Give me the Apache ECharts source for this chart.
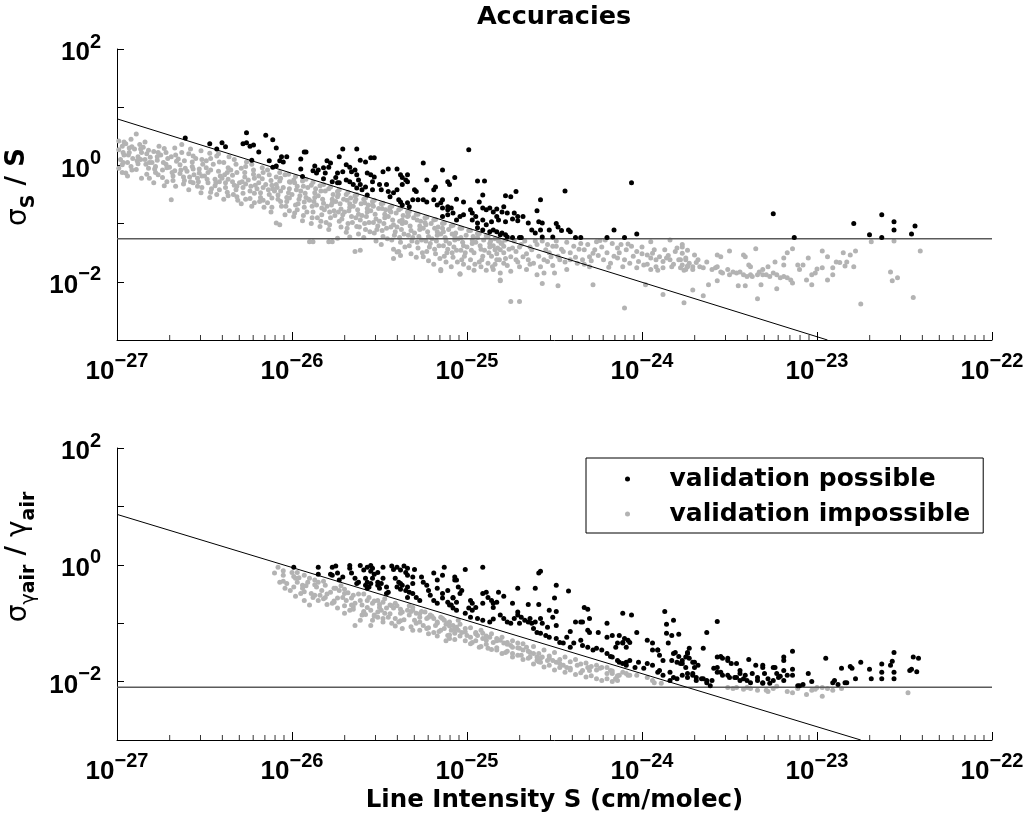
<!DOCTYPE html>
<html><head><meta charset="utf-8">
<script src="https://cdn.jsdelivr.net/npm/echarts@6.0.0/dist/echarts.min.js"></script>
<style>html,body{margin:0;padding:0;background:#fff}#c{width:1030px;height:822px}</style>
</head><body><div id="c"></div>
<script>
// Values stored as [log10(S in cm/molec), log10(accuracy)].
const xDecades = [-27, -22];          // S axis range, 10^-27 .. 10^-22
const yDecades = [-3, 2];             // accuracy axis range, 10^-3 .. 10^2
const topLimit = 0.055;               // sigma_S/S horizontal limit
const bottomLimit = 0.008;            // sigma_gamma/gamma horizontal limit
const topDiagonal = [[-27, 0.80], [-22.94, -3]];
const bottomDiagonal = [[-27, 0.863], [-22.75, -3]];

const topPossible = [[-26.61,0.47],[-26.47,0.37],[-26.43,0.28],[-26.40,0.39],[-26.38,0.32],[-26.28,0.37],[-26.26,0.56],[-26.26,0.39],[-26.24,0.33],[-26.22,0.35],[-26.23,0.09],[-26.19,0.23],[-26.15,0.52],[-26.11,0.44],[-26.13,0.08],[-26.11,-0.03],[-26.09,-0.01],[-26.09,0.30],[-26.07,0.08],[-26.06,0.15],[-26.05,0.06],[-26.03,0.15],[-25.95,0.11],[-25.95,-0.06],[-25.93,0.23],[-25.92,0.23],[-25.94,-0.19],[-25.88,-0.09],[-25.87,-0.01],[-25.86,-0.13],[-25.85,-0.08],[-25.82,-0.04],[-25.81,-0.13],[-25.82,-0.23],[-25.80,0.08],[-25.79,-0.03],[-25.78,0.04],[-25.77,-0.28],[-25.75,-0.21],[-25.74,-0.13],[-25.74,-0.30],[-25.73,0.15],[-25.73,-0.30],[-25.71,0.28],[-25.71,-0.11],[-25.69,0.01],[-25.69,-0.25],[-25.67,-0.03],[-25.67,-0.28],[-25.66,-0.11],[-25.65,-0.33],[-25.64,-0.08],[-25.63,0.28],[-25.63,-0.16],[-25.63,-0.39],[-25.62,-0.25],[-25.61,-0.33],[-25.61,0.09],[-25.60,-0.42],[-25.58,-0.37],[-25.58,0.06],[-25.57,-0.13],[-25.57,-0.51],[-25.55,0.13],[-25.55,-0.16],[-25.54,-0.42],[-25.54,-0.28],[-25.53,0.13],[-25.53,-0.20],[-25.50,-0.33],[-25.49,-0.42],[-25.48,-0.11],[-25.46,-0.33],[-25.45,-0.45],[-25.45,-0.06],[-25.44,-0.54],[-25.42,-0.47],[-25.40,-0.06],[-25.40,-0.42],[-25.39,-0.59],[-25.38,-0.16],[-25.38,-0.63],[-25.37,-0.21],[-25.37,-0.33],[-25.37,-0.68],[-25.35,-0.25],[-25.34,-0.16],[-25.34,-0.28],[-25.34,-0.64],[-25.33,-0.71],[-25.31,-0.59],[-25.30,-0.42],[-25.29,-0.45],[-25.28,-0.59],[-25.25,0.04],[-25.25,-0.59],[-25.23,-0.25],[-25.23,-0.63],[-25.19,-0.42],[-25.19,-0.59],[-25.18,-0.37],[-25.17,-0.68],[-25.15,-0.64],[-25.14,-0.08],[-25.14,-0.59],[-25.14,-0.73],[-25.14,-0.88],[-25.11,-0.71],[-25.11,-0.28],[-25.11,-0.76],[-25.11,-0.85],[-25.10,-0.33],[-25.09,-0.73],[-25.08,-0.82],[-25.07,-0.21],[-25.06,-0.58],[-25.06,-0.94],[-25.04,-0.88],[-25.02,-0.85],[-25.02,-0.63],[-24.99,0.27],[-24.98,-0.76],[-24.97,-0.94],[-24.97,-0.82],[-24.95,-0.88],[-24.94,-0.27],[-24.94,-0.99],[-24.94,-1.07],[-24.93,-0.63],[-24.91,-0.73],[-24.91,-0.94],[-24.91,-0.51],[-24.91,-1.11],[-24.90,-0.27],[-24.89,-0.76],[-24.89,-1.02],[-24.87,-0.73],[-24.87,-1.14],[-24.86,-0.97],[-24.85,-0.80],[-24.85,-1.11],[-24.83,-0.88],[-24.83,-0.75],[-24.83,-1.14],[-24.82,-0.94],[-24.81,-1.19],[-24.80,-0.80],[-24.80,-1.16],[-24.79,-0.71],[-24.78,-0.52],[-24.78,-0.97],[-24.78,-1.19],[-24.77,-0.82],[-24.77,-1.23],[-24.75,-0.54],[-24.74,-0.92],[-24.74,-1.24],[-24.73,-0.82],[-24.72,-0.45],[-24.71,-0.88],[-24.71,-0.95],[-24.70,-1.24],[-24.69,-1.24],[-24.68,-0.88],[-24.65,-0.99],[-24.63,-1.11],[-24.61,-1.16],[-24.60,-0.78],[-24.59,-0.97],[-24.58,-1.11],[-24.58,-0.59],[-24.57,-0.99],[-24.57,-1.23],[-24.53,-1.11],[-24.51,-1.23],[-24.49,-1.00],[-24.48,-1.06],[-24.46,-1.12],[-24.44,-0.44],[-24.42,-1.11],[-24.41,-1.14],[-24.38,-1.24],[-24.35,-1.24],[-24.20,-1.24],[-24.16,-1.11],[-24.10,-1.24],[-24.06,-0.30],[-24.03,-1.18],[-23.25,-0.83],[-23.13,-1.24],[-22.79,-1.00],[-22.70,-1.19],[-22.63,-1.24],[-22.63,-0.85],[-22.56,-0.97],[-22.56,-1.11],[-22.46,-1.18],[-22.44,-1.04]];

const topImpossible = [[-26.99,0.42],[-26.99,0.27],[-26.98,0.10],[-26.97,0.33],[-26.97,-0.12],[-26.96,0.18],[-26.99,-0.05],[-26.96,0.40],[-26.97,0.01],[-26.95,-0.13],
[-26.95,0.37],[-26.94,0.05],[-26.93,0.22],[-26.92,0.45],[-26.94,-0.18],[-26.91,0.12],[-26.93,0.30],[-26.92,-0.02],
[-26.89,0.54],[-26.90,0.28],[-26.88,0.15],[-26.87,0.36],[-26.89,-0.07],[-26.86,0.22],[-26.88,0.03],[-26.86,-0.22],
[-26.85,0.31],[-26.84,0.10],[-26.83,0.20],[-26.82,-0.05],[-26.84,0.40],[-26.81,0.14],[-26.83,-0.15],[-26.82,0.26],
[-26.80,0.05],[-26.79,0.24],[-26.78,-0.12],[-26.77,0.15],[-26.79,-0.30],[-26.76,0.33],[-26.78,-0.02],[-26.77,0.09],
[-26.75,0.18],[-26.74,-0.08],[-26.73,0.29],[-26.72,0.02],[-26.74,-0.21],[-26.71,0.12],[-26.73,-0.35],[-26.72,0.22],
[-26.70,-0.03],[-26.69,0.15],[-26.68,-0.18],[-26.67,0.30],[-26.69,-0.59],[-26.66,0.07],[-26.68,-0.26],[-26.67,-0.09],
[-26.65,0.11],[-26.64,-0.14],[-26.63,0.22],[-26.62,-0.32],[-26.64,0.01],[-26.61,-0.05],[-26.63,0.36],[-26.62,-0.20],
[-26.60,-0.10],[-26.59,0.20],[-26.58,-0.28],[-26.57,0.06],[-26.59,-0.42],[-26.56,-0.16],[-26.58,0.28],[-26.57,-0.02],
[-26.55,0.12],[-26.54,-0.22],[-26.53,-0.06],[-26.52,0.25],[-26.54,-0.36],[-26.51,0.02],[-26.53,-0.13],[-26.52,-0.47],
[-26.50,-0.18],[-26.49,0.08],[-26.48,-0.30],[-26.47,0.21],[-26.49,-0.04],[-26.46,-0.40],[-26.48,-0.12],[-26.47,-0.55],
[-26.45,0.02],[-26.44,-0.24],[-26.43,0.16],[-26.42,-0.10],[-26.44,-0.35],[-26.41,-0.18],[-26.43,-0.50],[-26.42,0.20],
[-26.40,-0.22],[-26.39,0.05],[-26.38,-0.38],[-26.37,-0.12],[-26.39,-0.58],[-26.36,0.15],[-26.38,-0.30],[-26.37,-0.46],
[-26.35,-0.08],[-26.34,-0.28],[-26.33,0.10],[-26.32,-0.42],[-26.34,-0.17],[-26.31,-0.60],[-26.33,-0.34],[-26.32,0.02],
[-26.30,-0.30],[-26.29,-0.05],[-26.28,-0.48],[-26.27,-0.20],[-26.29,-0.66],[-26.26,0.06],[-26.28,-0.38],[-26.27,-0.12],
[-26.25,-0.25],[-26.24,-0.44],[-26.23,0.02],[-26.22,-0.15],[-26.24,-0.57],[-26.21,-0.34],[-26.23,-0.70],[-26.22,-0.08],
[-26.20,-0.40],[-26.19,-0.18],[-26.18,-0.55],[-26.17,-0.04],[-26.19,-0.30],[-26.16,-0.72],[-26.18,-0.47],[-26.17,-0.23],
[-26.15,-0.33],[-26.14,-0.08],[-26.13,-0.50],[-26.12,-0.26],[-26.14,-0.64],[-26.11,-0.40],[-26.13,-0.16],[-26.12,-0.80],
[-26.10,-0.44],[-26.09,-0.20],[-26.08,-0.58],[-26.07,-0.12],[-26.09,-0.33],[-26.06,-0.70],[-26.08,-0.51],[-26.07,-0.27],
[-26.05,-0.38],[-26.04,-0.16],[-26.03,-0.62],[-26.02,-0.47],[-26.04,-0.85],[-26.01,-0.29],[-26.03,-0.55],[-26.02,-0.15],
[-26.00,-0.50],[-25.99,-0.25],[-25.98,-0.68],[-25.97,-0.36],[-25.99,-0.88],[-25.96,-0.58],[-25.98,-0.19],[-25.97,-0.76],
[-26.09,-0.99],[-26.07,-1.02],
[-25.95,-0.44],[-25.94,-0.27],[-25.93,-0.72],[-25.92,-0.55],[-25.94,-0.95],[-25.91,-0.38],[-25.93,-0.63],[-25.92,-0.24],
[-25.90,-0.60],[-25.89,-0.34],[-25.88,-0.80],[-25.87,-0.47],[-25.89,-1.00],[-25.86,-0.68],[-25.88,-0.29],[-25.87,-0.55],
[-25.88,-1.31],
[-25.85,-0.52],[-25.84,-0.35],[-25.83,-0.85],[-25.82,-0.65],[-25.84,-1.05],[-25.81,-0.44],[-25.83,-0.73],[-25.82,-0.33],
[-25.80,-0.70],[-25.79,-0.40],[-25.78,-0.90],[-25.77,-0.58],[-25.79,-1.10],[-25.76,-0.78],[-25.78,-0.37],[-25.77,-0.64],
[-25.77,-1.31],
[-25.75,-0.62],[-25.74,-0.45],[-25.73,-0.96],[-25.72,-0.75],[-25.74,-0.54],[-25.71,-0.85],[-25.73,-0.42],[-25.72,-1.06],
[-25.70,-0.80],[-25.69,-0.50],[-25.68,-1.00],[-25.67,-0.66],[-25.69,-1.15],[-25.66,-0.88],[-25.68,-0.46],[-25.67,-0.72],
[-25.65,-0.70],[-25.64,-0.52],[-25.63,-1.05],[-25.62,-0.84],[-25.64,-0.62],[-25.61,-0.94],[-25.63,-0.50],[-25.62,-1.18],
[-25.64,-1.48],[-25.61,-1.46],
[-25.60,-0.86],[-25.59,-0.58],[-25.58,-1.10],[-25.57,-0.74],[-25.59,-1.24],[-25.56,-0.98],[-25.58,-0.56],[-25.57,-0.80],
[-25.55,-0.78],[-25.54,-0.62],[-25.53,-1.16],[-25.52,-0.92],[-25.54,-0.68],[-25.51,-1.04],[-25.53,-0.60],[-25.52,-1.30],
[-25.50,-0.96],[-25.49,-0.66],[-25.48,-1.22],[-25.47,-0.84],[-25.49,-1.36],[-25.46,-1.08],[-25.48,-0.65],[-25.47,-0.90],
[-25.45,-0.88],[-25.44,-0.72],[-25.43,-1.28],[-25.42,-1.02],[-25.44,-0.78],[-25.41,-1.14],[-25.43,-0.70],[-25.42,-1.44],
[-25.40,-1.06],[-25.39,-0.76],[-25.38,-1.32],[-25.37,-0.94],[-25.39,-1.48],[-25.36,-1.18],[-25.38,-0.74],[-25.37,-1.00],
[-25.42,-1.60],[-25.38,-1.55],
[-25.35,-0.98],[-25.34,-0.80],[-25.33,-1.38],[-25.32,-1.12],[-25.34,-0.88],[-25.31,-1.24],[-25.33,-0.79],[-25.32,-1.52],
[-25.30,-1.16],[-25.29,-0.84],[-25.28,-1.42],[-25.27,-1.04],[-25.29,-1.58],[-25.26,-1.28],[-25.28,-0.84],[-25.27,-1.10],
[-25.25,-1.08],[-25.24,-0.90],[-25.23,-1.48],[-25.22,-1.22],[-25.24,-0.98],[-25.21,-1.34],[-25.23,-0.89],[-25.22,-1.64],
[-25.20,-1.26],[-25.19,-0.94],[-25.18,-1.52],[-25.17,-1.14],[-25.19,-1.70],[-25.16,-1.38],[-25.18,-0.93],[-25.17,-1.20],
[-25.15,-1.81],
[-25.15,-1.18],[-25.14,-1.00],[-25.13,-1.56],[-25.12,-1.30],[-25.14,-1.08],[-25.11,-1.44],[-25.13,-0.99],[-25.12,-1.66],
[-25.10,-1.34],[-25.09,-1.04],[-25.08,-1.58],[-25.07,-1.22],[-25.09,-1.74],[-25.06,-1.46],[-25.08,-1.03],[-25.07,-1.28],
[-25.05,-1.26],[-25.04,-1.08],[-25.03,-1.62],[-25.02,-1.38],[-25.04,-1.87],[-25.01,-1.50],[-25.03,-1.08],[-25.02,-1.70],
[-25.00,-1.40],[-24.99,-1.12],[-24.98,-1.62],[-24.97,-1.28],[-24.99,-1.76],[-24.96,-1.50],[-24.98,-1.12],[-24.97,-1.34],
[-24.96,-1.80],
[-24.95,-1.32],[-24.94,-1.17],[-24.93,-1.66],[-24.92,-1.44],[-24.94,-1.24],[-24.91,-1.56],[-24.93,-1.17],[-24.92,-1.74],
[-24.90,-1.46],[-24.89,-1.21],[-24.88,-1.68],[-24.87,-1.34],[-24.89,-1.80],[-24.86,-1.56],[-24.88,-1.22],[-24.87,-1.40],
[-24.85,-1.38],[-24.84,-1.26],[-24.83,-1.52],[-24.82,-1.30],[-24.84,-1.70],[-24.81,-1.45],
[-24.80,-1.33],[-24.79,-1.50],[-24.78,-1.28],[-24.77,-1.72],[-24.76,-1.44],[-24.78,-1.60],
[-25.975,-0.42],[-25.965,-0.66],[-25.955,-0.52],[-25.925,-0.48],[-25.915,-0.80],[-25.905,-0.58],[-25.875,-0.62],[-25.865,-0.40],[-25.855,-0.90],[-25.825,-0.58],[-25.815,-0.76],[-25.805,-0.98],[-25.775,-0.68],[-25.765,-0.50],[-25.755,-0.86],[-25.725,-0.66],[-25.715,-0.92],[-25.705,-0.58],[-25.675,-0.78],[-25.665,-0.56],[-25.655,-0.98],[-25.625,-0.76],[-25.615,-1.06],[-25.605,-0.66],[-25.575,-0.88],[-25.565,-0.68],[-25.555,-1.14],[-25.525,-0.84],[-25.515,-1.10],[-25.505,-0.74],[-25.475,-1.00],[-25.465,-0.76],[-25.455,-1.26],[-25.425,-0.94],[-25.415,-1.20],[-25.405,-0.82],[-25.375,-1.10],[-25.365,-0.86],[-25.355,-1.40],[-25.325,-1.04],[-25.315,-1.30],[-25.305,-0.90],[-25.275,-1.22],[-25.265,-0.96],[-25.255,-1.50],[-25.225,-1.14],[-25.215,-1.40],[-25.205,-1.00],[-25.175,-1.30],[-25.165,-1.06],[-25.155,-1.60],[-25.125,-1.24],[-25.115,-1.50],[-25.105,-1.10],[-25.075,-1.40],[-25.065,-1.16],[-25.055,-1.66],[-25.025,-1.32],[-25.015,-1.56],[-25.005,-1.20],[-24.975,-1.46],[-24.965,-1.22],[-24.955,-1.70],[-24.925,-1.38],[-24.915,-1.62],[-24.905,-1.28],[-24.875,-1.50],[-24.865,-1.30],[-24.855,-1.74],[-24.825,-1.42],[-24.815,-1.62],[-24.805,-1.34],
[-26.935,0.18],[-26.885,0.08],[-26.835,0.02],[-26.785,-0.06],[-26.735,0.05],[-26.685,-0.12],[-26.635,-0.08],[-26.585,-0.20],[-26.535,-0.28],[-26.485,-0.24],[-26.435,-0.30],[-26.385,-0.16],[-26.335,-0.50],[-26.285,-0.28],[-26.235,-0.36],[-26.185,-0.62],[-26.135,-0.42],[-26.085,-0.38],[-26.035,-0.70],[-26.015,-0.40],
[-26.965,0.22],[-26.965,0.05],[-26.915,0.32],[-26.915,-0.08],[-26.865,0.10],[-26.865,0.28],[-26.815,-0.22],[-26.815,0.05],[-26.765,0.22],[-26.765,-0.16],[-26.715,-0.04],[-26.715,-0.28],[-26.665,0.18],[-26.665,-0.36],[-26.615,0.08],[-26.615,-0.26],[-26.565,-0.06],[-26.565,-0.30],[-26.565,0.16],[-26.515,-0.38],[-26.515,0.10],[-26.515,-0.18],[-26.465,-0.08],[-26.465,-0.46],[-26.465,0.12],[-26.415,-0.28],[-26.415,0.06],[-26.415,-0.42],[-26.365,-0.04],[-26.365,-0.52],[-26.365,-0.24],[-26.315,-0.12],[-26.315,-0.36],[-26.315,-0.54],[-26.265,-0.32],[-26.265,-0.58],[-26.265,-0.02],[-26.215,-0.22],[-26.215,-0.48],[-26.215,-0.64],[-26.165,-0.12],[-26.165,-0.60],[-26.165,-0.38],[-26.115,-0.34],[-26.115,-0.56],[-26.115,-0.72],[-26.065,-0.22],[-26.065,-0.44],[-26.065,-0.62],[-26.015,-0.56],[-26.015,-0.78],[-26.015,-0.28],[-25.985,-0.30],[-25.985,-0.82],[-25.935,-0.36],[-25.935,-0.86],[-25.885,-0.70],[-25.885,-0.90],[-25.835,-0.44],[-25.835,-0.96],[-25.785,-0.80],[-25.785,-1.02],[-25.735,-0.50],[-25.735,-0.80],[-25.685,-0.60],[-25.685,-1.08],[-25.635,-0.90],[-25.635,-0.58],[-25.585,-0.64],[-25.585,-1.00],[-25.535,-0.70],[-25.535,-0.98],[-25.485,-0.74],[-25.485,-1.12],[-25.435,-0.80],[-25.435,-1.06],[-25.385,-0.96],[-25.385,-1.24],[-25.335,-0.86],[-25.335,-1.20],[-25.285,-0.94],[-25.285,-1.32],[-25.235,-1.02],[-25.235,-1.30],[-25.185,-1.08],[-25.185,-1.44],[-25.135,-1.14],[-25.135,-1.38],[-25.085,-1.18],[-25.085,-1.50],[-25.035,-1.24],[-25.035,-1.46],
[-24.73,-1.30],[-24.72,-1.48],[-24.71,-1.66],[-24.70,-1.40],[-24.67,-1.30],[-24.66,-1.52],[-24.64,-1.70],[-24.63,-1.45],[-24.61,-1.30],[-24.59,-1.56],[-24.57,-1.30],[-24.56,-1.62],[-24.54,-1.36],[-24.53,-1.50],[-24.51,-1.72],[-24.49,-1.30],[-24.48,-1.56],[-24.46,-1.44],[-24.44,-1.66],[-24.43,-1.32],[-24.41,-1.50],[-24.38,-1.58],[-24.36,-1.44],[-24.33,-1.70],[-24.31,-1.36],[-24.29,-1.64],[-24.27,-1.45],[-24.25,-1.55],[-24.23,-1.40],[-24.20,-1.50],[-24.19,-1.75],[-24.16,-1.56],[-24.13,-1.50],[-24.10,-1.62],[-24.08,-1.35],[-24.05,-1.56],[-24.02,-1.65],[-24.00,-1.52],[-23.97,-1.70],[-23.93,-1.45],[-23.91,-1.80],[-23.87,-1.45],[-23.85,-1.55],[-23.82,-1.70],[-23.79,-1.62],[-23.76,-1.80],
[-25.90,-1.31],[-25.79,-1.31],[-25.15,-1.79],[-25.04,-1.86],[-24.81,-1.97],[-24.75,-2.34],[-25.40,-1.49],[-25.25,-1.57],[-25.74,-1.25],[-25.67,-1.23],
[-24.26,-1.31],[-24.21,-1.28],[-24.17,-1.34],[-24.14,-1.42],[-24.12,-1.36],[-24.09,-1.45],[-24.06,-1.39],[-24.03,-1.48],[-24.00,-1.40],[-23.97,-1.54],[-23.95,-1.59],[-23.94,-1.51],[-23.92,-1.62],[-23.90,-1.57],[-23.88,-1.65],[-23.86,-1.59],[-23.84,-1.62],[-23.81,-1.48],[-23.80,-1.42],[-23.77,-1.51],[-23.75,-1.62],[-23.73,-1.68],
[-24.22,-1.62],[-24.18,-1.68],[-24.14,-1.59],[-24.11,-1.74],[-24.07,-1.68],[-24.03,-1.76],[-23.99,-1.71],[-23.95,-1.79],[-23.92,-1.74],[-23.88,-1.76],[-23.83,-1.74],[-23.78,-1.76],[-23.74,-1.74],
[-24.39,-1.39],[-24.35,-1.34],[-24.33,-1.45],[-24.30,-1.57],[-24.28,-1.51],[-24.41,-1.62],[-24.37,-1.68],[-24.34,-1.62],[-24.30,-1.74],[-24.43,-1.79],[-24.47,-1.62],[-24.45,-1.48],[-24.49,-1.39],[-24.52,-1.57],[-24.54,-1.65],[-24.58,-1.74],[-24.62,-1.68],[-24.65,-1.62],[-24.68,-1.57],[-24.70,-1.74],[-24.72,-1.62],[-24.75,-1.57],[-24.79,-1.68],[-24.83,-1.62],[-24.85,-1.79],[-24.81,-1.85],[-24.75,-1.82],[-24.66,-1.79],[-24.60,-1.88],[-24.56,-1.85],[-24.50,-1.85],[-24.84,-1.45],[-24.79,-1.39],[-24.74,-1.42],[-24.69,-1.36],[-24.64,-1.40],[-24.60,-1.36],[-24.55,-1.45],[-24.51,-1.39],
[-24.81,-1.98],[-24.70,-2.34],[-24.57,-2.03],[-24.48,-2.07],[-24.28,-2.05],[-24.10,-2.45],[-23.98,-2.05],[-23.88,-2.22],
[-24.24,-1.29],[-23.95,-1.31],[-23.84,-1.28],[-23.77,-1.40],
[-23.77,-1.36],[-23.74,-1.46],[-23.70,-1.54],[-23.75,-1.59],[-23.78,-1.62],[-23.77,-1.71],[-23.74,-1.73],[-23.71,-1.74],[-23.69,-1.67],[-23.67,-1.74],[-23.65,-1.76],[-23.71,-1.79],[-23.75,-1.79],[-23.68,-1.62],[-23.63,-1.66],[-23.60,-1.79],[-23.58,-1.76],[-23.57,-1.74],[-23.55,-1.83],[-23.54,-1.85],[-23.51,-1.79],[-23.50,-1.88],[-23.48,-1.83],[-23.46,-1.85],[-23.44,-1.83],[-23.42,-1.88],[-23.40,-1.91],[-23.38,-1.88],[-23.37,-1.91],[-23.34,-1.88],[-23.33,-1.83],[-23.31,-1.88],[-23.29,-1.88],[-23.27,-1.91],[-23.25,-1.85],[-23.23,-1.88],[-23.21,-1.93],[-23.19,-1.91],[-23.17,-1.93],[-23.15,-1.97],[-23.14,-2.02],
[-23.57,-1.54],[-23.55,-1.57],[-23.50,-1.47],[-23.42,-1.54],[-23.41,-1.57],[-23.35,-1.43],[-23.39,-1.71],[-23.38,-1.74],[-23.31,-1.79],[-23.28,-1.74],[-23.24,-1.66],[-23.19,-1.59],[-23.19,-1.71],[-23.17,-1.50],[-23.14,-1.43],[-23.11,-1.71],[-23.10,-1.79],[-23.08,-1.71],[-23.05,-1.59],[-23.06,-1.97],[-23.03,-2.05],[-23.03,-1.88],[-23.01,-1.85],[-23.00,-1.78],[-22.97,-1.47],[-22.97,-1.76],[-22.94,-1.57],[-22.94,-1.97],[-22.91,-1.88],[-22.91,-1.76],[-22.89,-1.66],[-22.87,-1.67],[-22.85,-1.50],[-22.84,-1.73],[-22.83,-1.66],[-22.81,-1.54],[-22.79,-1.74],[-22.78,-1.47],
[-23.71,-2.14],[-23.65,-2.24],[-23.76,-2.36],[-23.62,-2.05],[-23.57,-1.98],[-23.45,-2.07],[-23.41,-2.07],[-23.34,-2.29],[-23.32,-2.05],[-23.23,-2.12],[-22.75,-2.38],[-22.69,-1.31],[-22.58,-1.83],[-22.57,-1.98],[-22.54,-1.93],[-22.56,-1.30],[-22.41,-1.47],[-22.45,-2.27]];

const bottomPossible = [[-25.99,-0.04],[-25.85,-0.04],[-25.85,-0.16],[-25.77,-0.04],[-25.75,-0.02],[-25.78,-0.16],[-25.77,-0.18],[-25.74,-0.14],[-25.71,-0.21],[-25.73,-0.26],[-25.67,-0.01],[-25.67,-0.06],[-25.66,-0.14],[-25.64,-0.23],[-25.62,-0.30],[-25.63,-0.32],[-25.61,-0.01],[-25.59,-0.09],[-25.57,-0.04],[-25.55,-0.01],[-25.55,-0.11],[-25.54,-0.06],[-25.51,-0.13],[-25.53,-0.16],[-25.58,-0.23],[-25.57,-0.30],[-25.55,-0.32],[-25.58,-0.35],[-25.56,-0.38],[-25.57,-0.40],[-25.54,-0.23],[-25.51,-0.30],[-25.51,-0.35],[-25.50,-0.40],[-25.49,-0.32],[-25.48,-0.23],[-25.46,-0.38],[-25.45,-0.47],[-25.46,-0.49],[-25.48,-0.04],[-25.43,-0.02],[-25.42,-0.08],[-25.40,-0.04],[-25.38,-0.09],[-25.36,-0.02],[-25.35,-0.13],[-25.34,-0.06],[-25.34,-0.18],[-25.31,-0.21],[-25.41,-0.23],[-25.39,-0.30],[-25.38,-0.32],[-25.40,-0.38],[-25.37,-0.35],[-25.38,-0.42],[-25.35,-0.44],[-25.34,-0.38],[-25.31,-0.32],[-25.33,-0.47],[-25.31,-0.49],[-25.34,-0.56],[-25.29,-0.56],[-25.27,-0.61],[-25.30,-0.08],[-25.26,-0.21],[-25.25,-0.30],[-25.23,-0.35],[-25.22,-0.44],[-25.21,-0.52],[-25.19,-0.61],[-25.17,-0.66],[-25.19,-0.14],[-25.17,-0.26],[-25.17,-0.40],[-25.14,-0.18],[-25.13,-0.04],[-25.14,-0.49],[-25.14,-0.57],[-25.11,-0.64],[-25.10,-0.69],[-25.08,-0.74],[-25.06,-0.78],[-25.11,-0.44],[-25.08,-0.57],[-25.07,-0.26],[-25.05,-0.38],
[-25.07,-0.21],[-25.06,-0.26],[-25.01,-0.08],[-24.91,-0.04],[-25.03,-0.44],[-25.04,-0.49],[-25.08,-0.56],[-25.06,-0.64],[-25.09,-0.69],[-24.98,-0.61],[-24.97,-0.66],[-24.95,-0.73],[-24.97,-0.78],[-24.99,-0.74],[-25.01,-0.83],[-24.91,-0.49],[-24.89,-0.47],[-24.88,-0.56],[-24.86,-0.61],[-24.85,-0.66],[-24.83,-0.64],[-24.85,-0.73],[-24.91,-0.66],[-24.82,-0.47],[-24.79,-0.54],[-24.71,-0.40],[-24.59,-0.14],[-24.58,-0.11],[-24.49,-0.35],[-24.42,-0.45],[-24.74,-0.66],[-24.65,-0.68],[-24.59,-0.68],[-24.71,-0.81],[-24.71,-0.86],[-24.73,-0.92],[-24.69,-0.90],[-24.67,-0.95],[-24.65,-0.98],[-24.63,-1.00],[-24.70,-1.00],[-24.81,-0.86],[-24.79,-0.92],[-24.77,-0.98],[-24.75,-1.00],[-24.98,-0.90],[-24.94,-0.92],[-24.91,-0.95],[-24.87,-0.98],[-24.85,-0.93],[-24.64,-0.92],[-24.61,-0.98],[-24.58,-0.92],[-24.57,-1.00],[-24.54,-1.07],[-24.53,-0.78],[-24.49,-0.80],[-24.50,-0.57],[-24.51,-0.90],[-24.49,-1.04],[-24.62,-1.09],[-24.60,-1.16],[-24.58,-1.17],[-24.55,-1.21],[-24.53,-1.24],[-24.49,-1.26],[-24.47,-1.33],[-24.45,-1.34],[-24.43,-1.24],[-24.41,-1.14],[-24.38,-0.98],[-24.35,-0.98],[-24.34,-0.98],[-24.33,-0.73],[-24.31,-0.76],[-24.30,-0.92],[-24.31,-1.12],[-24.30,-1.16],[-24.25,-1.16],[-24.20,-1.00],[-24.41,-1.41],[-24.39,-1.34],[-24.35,-1.29],[-24.34,-1.38],[-24.31,-1.41],[-24.28,-1.46],[-24.26,-1.43],[-24.23,-1.46],[-24.20,-1.52],[-24.18,-1.57],[-24.17,-1.58],[-24.14,-1.64],[-24.13,-1.67],[-24.11,-1.69],[-24.09,-1.67],[-24.15,-1.41],[-24.14,-1.34],[-24.11,-1.33],[-24.10,-1.26],[-24.08,-1.29],[-24.11,-0.83],[-24.17,-1.21],[-24.20,-1.24],[-24.61,-0.40],
[-24.06,-0.86],[-24.13,-1.21],[-24.03,-1.16],[-23.87,-0.80],[-23.86,-1.02],[-23.82,-0.95],[-23.83,-1.21],[-23.79,-1.19],[-23.85,-1.34],[-23.86,-1.17],[-23.57,-0.97],[-23.63,-1.16],[-23.65,-1.43],[-23.94,-1.46],[-23.91,-1.46],[-23.73,-1.43],[-23.74,-1.52],[-23.81,-1.50],[-23.79,-1.57],[-23.83,-1.64],[-23.80,-1.67],[-23.78,-1.69],[-23.77,-1.64],[-23.75,-1.76],[-23.73,-1.60],[-23.71,-1.67],[-23.70,-1.76],[-23.84,-1.84],[-23.82,-1.93],[-23.74,-1.86],[-23.74,-1.93],[-23.71,-1.86],[-23.69,-1.93],[-23.61,-2.07],[-23.65,-1.95],[-23.63,-1.98],[-23.59,-1.77],[-23.57,-1.84],[-23.57,-1.58],[-23.55,-1.57],[-23.54,-1.60],[-23.51,-1.60],[-23.49,-1.69],[-23.46,-1.69],[-23.44,-1.81],[-23.51,-1.89],[-23.50,-1.93],[-23.46,-1.93],[-23.44,-1.86],[-23.42,-1.95],[-23.39,-1.62],[-23.35,-1.72],[-23.41,-1.89],[-23.40,-1.98],[-23.37,-1.86],[-23.34,-1.93],[-23.31,-1.76],[-23.30,-1.86],[-23.28,-1.95],[-23.27,-2.03],[-23.31,-2.03],[-23.24,-1.76],[-23.19,-1.58],[-23.19,-1.64],[-23.23,-1.86],[-23.21,-1.91],[-23.19,-1.81],[-23.19,-1.98],[-23.14,-1.89],[-23.14,-1.79],[-23.14,-1.48],[-23.10,-2.07],[-23.08,-2.05],[-23.05,-1.86],[-23.03,-2.00],[-22.95,-1.60],[-22.91,-2.02],[-22.90,-1.98],[-22.88,-2.05],[-22.86,-1.77],[-22.84,-2.02],[-22.83,-2.02],[-22.81,-1.74],[-22.80,-1.77],[-22.78,-1.95],[-22.75,-1.67],[-22.70,-1.79],[-22.69,-1.95],[-22.63,-1.70],[-22.63,-1.95],[-22.63,-1.84],[-22.58,-1.72],[-22.57,-1.65],[-22.56,-1.50],[-22.56,-1.84],[-22.56,-1.95],[-22.47,-1.81],[-22.45,-1.58],[-22.42,-1.60],[-22.46,-1.79],[-22.43,-1.83],[-23.11,-2.07],
[-24.09,-1.72],[-24.07,-1.64],[-24.04,-1.76],[-24.02,-1.67],[-23.99,-1.77],[-23.97,-1.69],[-23.94,-1.72],[-23.91,-1.84],[-23.90,-1.81],[-23.88,-1.89],[-23.84,-1.98],[-23.80,-1.95],[-23.77,-1.89],[-23.71,-1.89],[-23.69,-1.98],[-23.66,-1.95],[-23.63,-2.02],[-23.60,-1.98],[-23.57,-1.76],[-23.55,-1.84],[-23.54,-1.89],[-23.47,-1.93],[-23.44,-1.98],[-23.38,-2.02],[-23.34,-1.98],[-23.31,-2.02],[-23.25,-1.98],[-23.22,-1.93],[-23.17,-1.89],[-24.11,-1.34],[-24.09,-1.41],[-24.07,-1.33],[-23.97,-1.29],[-23.94,-1.34],[-23.91,-1.46],[-23.90,-1.55],[-23.88,-1.64],[-23.82,-1.52],[-23.77,-1.69],[-23.75,-1.58],[-23.74,-1.50],[-23.70,-1.67],[-23.68,-1.72],[-23.51,-1.64],[-23.31,-1.72],[-23.25,-1.76]];

const bottomImpossible = [[-26.08,-0.04],[-26.10,-0.14],[-26.05,-0.18],[-26.00,-0.13],[-25.97,-0.13],[-26.07,-0.30],[-26.03,-0.32],[-25.97,-0.30],[-25.94,-0.35],[-25.91,-0.30],[-25.90,-0.23],[-25.87,-0.26],[-25.86,-0.38],[-26.01,-0.44],[-25.95,-0.49],[-25.89,-0.49],[-25.84,-0.52],[-25.81,-0.56],[-25.93,-0.61],[-25.78,-0.47],[-25.75,-0.40],[-25.73,-0.44],[-25.74,-0.57],[-25.71,-0.56],[-25.70,-0.49],[-25.74,-0.74],[-25.69,-0.61],[-25.66,-0.57],[-25.66,-0.69],[-25.64,-0.66],[-25.61,-0.61],[-25.67,-0.78],[-25.60,-0.69],[-25.57,-0.73],[-25.55,-0.78],[-25.54,-0.66],[-25.51,-0.61],[-25.54,-0.95],[-25.51,-0.90],[-25.51,-0.81],[-25.49,-0.78],[-25.47,-0.83],[-25.50,-0.73],[-25.46,-0.74],[-25.44,-0.69],[-25.42,-0.74],[-25.41,-0.66],[-25.45,-0.90],[-25.41,-0.92],[-25.39,-0.98],[-25.38,-0.83],[-25.37,-0.81],[-25.34,-0.78],[-25.33,-0.86],[-25.31,-0.73],[-25.31,-0.78],[-25.29,-0.83],[-25.27,-0.90],[-25.27,-0.98],[-25.25,-1.04],[-25.23,-0.92],[-25.21,-0.86],[-25.19,-0.92],[-25.17,-0.98],[-25.15,-0.90],[-25.14,-0.92],[-25.11,-1.00],[-25.10,-0.98],[-25.08,-1.04],[-25.06,-1.07],[-25.05,-0.95],[-25.23,-1.09],[-25.19,-1.16],[-25.15,-1.12],[-25.11,-1.21],[-25.10,-1.26],[-25.07,-1.17],[-25.05,-1.12],[-25.83,-0.44],[-25.80,-0.68],[-25.70,-0.83],[-25.60,-0.86],[-25.57,-0.61],[-25.48,-0.98],[-25.37,-1.09],[-25.30,-0.95],[-25.31,-1.12],[-25.41,-1.05],[-25.24,-0.81],[-25.18,-1.04],[-25.13,-1.09],[-25.61,-0.95],[-25.64,-1.04],[-25.55,-1.04],[-25.58,-0.85],
[-25.98,-0.23],[-25.94,-0.40],[-25.85,-0.61],[-25.81,-0.35],[-25.77,-0.66],[-25.90,-0.69],[-25.98,-0.54],[-26.04,-0.40],
[-25.96,-0.22],[-25.92,-0.36],[-25.88,-0.56],[-25.85,-0.30],[-25.80,-0.50],[-25.76,-0.62],[-25.72,-0.36],[-25.68,-0.48],[-25.65,-0.72],[-25.62,-0.50],[-25.59,-0.80],[-25.56,-0.56],[-25.53,-0.86],[-25.50,-0.68],[-25.47,-0.58],[-25.44,-0.84],[-25.40,-0.70],[-25.36,-0.94],[-25.33,-0.70],[-25.29,-1.00],[-25.26,-0.80],[-25.22,-1.08],[-25.20,-0.88],[-25.16,-1.14],[-25.13,-0.95],
[-26.05,-0.10],[-26.05,-0.28],[-25.99,-0.20],[-25.99,-0.38],[-25.93,-0.18],[-25.93,-0.46],[-25.87,-0.34],[-25.87,-0.52],[-25.82,-0.28],[-25.82,-0.58],[-25.76,-0.40],[-25.76,-0.64],[-25.70,-0.42],[-25.70,-0.70],[-25.65,-0.52],[-25.65,-0.76],[-25.59,-0.50],[-25.59,-0.82],[-25.53,-0.62],[-25.53,-0.88],[-25.48,-0.64],[-25.48,-0.92],[-25.43,-0.70],[-25.43,-1.00],[-25.38,-0.76],[-25.38,-0.96],[-25.32,-0.80],[-25.32,-1.06],[-25.27,-0.84],[-25.27,-1.12],[-25.22,-0.90],[-25.22,-1.18],[-25.17,-1.00],[-25.17,-1.22],[-25.12,-1.02],[-25.12,-1.30],
[-25.09,-1.12],[-25.03,-1.16],[-25.01,-1.09],[-25.00,-1.21],[-24.98,-1.24],[-24.95,-1.16],[-24.94,-1.21],[-24.91,-1.26],[-24.91,-1.17],[-24.89,-1.29],[-24.87,-1.24],[-24.85,-1.33],[-24.83,-1.26],[-24.81,-1.29],[-24.79,-1.34],[-24.77,-1.33],[-24.75,-1.38],[-24.74,-1.41],[-24.71,-1.34],[-24.70,-1.43],[-24.68,-1.46],[-24.66,-1.41],[-24.64,-1.50],[-24.62,-1.52],[-24.60,-1.58],[-24.58,-1.60],[-24.57,-1.58],[-24.54,-1.64],[-24.53,-1.60],[-24.51,-1.64],[-24.49,-1.67],[-24.47,-1.69],[-24.45,-1.72],[-24.43,-1.76],[-24.41,-1.77],[-24.37,-1.72],[-24.34,-1.81],[-24.31,-1.76],[-24.30,-1.81],[-24.26,-1.72],[-24.24,-1.77],[-24.20,-1.76],[-24.18,-1.81],[-24.17,-1.86],[-24.15,-1.95],[-24.13,-1.89],[-24.11,-1.84],[-24.09,-1.86],[-24.07,-1.89],[-24.97,-1.33],[-24.93,-1.41],[-24.88,-1.43],[-24.83,-1.46],[-24.78,-1.50],[-24.74,-1.52],[-24.69,-1.55],[-24.64,-1.58],[-24.60,-1.64],[-24.58,-1.67],
[-25.10,-1.05],[-25.10,-1.20],[-25.07,-1.10],[-25.07,-1.28],[-25.04,-1.02],[-25.04,-1.22],[-25.01,-1.15],[-25.01,-1.30],[-24.98,-1.08],[-24.98,-1.35],[-24.95,-1.18],[-24.95,-1.30],[-24.92,-1.12],[-24.92,-1.40],[-24.89,-1.22],[-24.89,-1.36],[-24.86,-1.18],[-24.86,-1.45],[-24.83,-1.30],[-24.83,-1.42],[-24.80,-1.24],[-24.80,-1.52],[-24.77,-1.36],[-24.77,-1.48],[-24.74,-1.30],[-24.74,-1.58],[-24.71,-1.42],[-24.71,-1.55],[-24.68,-1.35],[-24.68,-1.62],[-24.65,-1.48],[-24.65,-1.60],[-24.62,-1.40],[-24.62,-1.70],[-24.59,-1.52],[-24.59,-1.66],[-24.56,-1.46],[-24.56,-1.75],[-24.53,-1.56],[-24.53,-1.72],[-24.50,-1.50],[-24.50,-1.80],[-24.47,-1.62],[-24.47,-1.76],[-24.44,-1.58],[-24.44,-1.84],[-24.41,-1.66],[-24.41,-1.80],[-24.38,-1.62],[-24.38,-1.88],[-24.35,-1.70],[-24.35,-1.85],[-24.32,-1.68],[-24.32,-1.92],[-24.29,-1.74],[-24.29,-1.90],[-24.26,-1.80],[-24.26,-1.95],[-24.23,-1.76],[-24.23,-1.98],[-24.20,-1.86],[-24.20,-1.95],[-24.17,-1.82],[-24.17,-2.00],[-24.14,-1.90],[-24.14,-1.98],
[-24.08,-1.89],[-24.03,-1.89],[-23.97,-1.93],[-23.94,-1.98],[-24.15,-1.95],[-23.93,-2.02],[-23.89,-2.03],[-23.51,-2.10],[-23.48,-2.12],[-23.46,-2.10],[-23.42,-2.13],[-23.40,-2.10],[-23.38,-2.12],[-23.34,-2.15],[-23.29,-2.15],[-23.28,-2.17],[-23.25,-2.12],[-23.23,-2.08],[-23.17,-2.17],[-23.14,-2.19],[-23.11,-2.12],[-23.06,-2.22],[-23.03,-2.15],[-23.01,-2.13],[-23.00,-2.10],[-22.97,-2.10],[-22.97,-2.25],[-22.94,-2.12],[-22.91,-2.15],[-22.86,-2.12],[-22.48,-2.19]];

const FONT = '"DejaVu Sans", "Liberation Sans", sans-serif';
const TICKFONT = '"Liberation Sans", Arial, sans-serif';
const GRAY = '#b3b3b3';
// x axis is laid out in units of 1e-27 cm/molec so the log scale works with plain numbers
const X_OFF = -xDecades[0];
const toVal = arr => arr.map(p => [Math.pow(10, p[0] + X_OFF), Math.pow(10, p[1])]);

const minorTicks = [];
for (let e = xDecades[0]; e < xDecades[1]; e++) for (let k = 2; k <= 9; k++) minorTicks.push([k * Math.pow(10, e + X_OFF), Math.pow(10, yDecades[0])]);

const supLabel = e => '{b|10}{s|' + (e < 0 ? '\u2212' : '') + Math.abs(e) + '}';
const xLabel = v => supLabel(Math.round(Math.log10(v)) - X_OFF);
const yLabel = v => { const e = Math.round(Math.log10(v)); return (e % 2 === 0) ? supLabel(e) : ''; };
const tickRich = {
  b: {fontFamily: TICKFONT, fontWeight: 'bold', fontSize: 26, lineHeight: 34, verticalAlign: 'bottom', color: '#000'},
  s: {fontFamily: TICKFONT, fontWeight: 'bold', fontSize: 20, verticalAlign: 'top', color: '#000'}
};
const nameRich = {
  g: {fontFamily: FONT, fontWeight: 'normal', fontSize: 28, verticalAlign: 'top', color: '#000'},
  b: {fontFamily: FONT, fontWeight: 'bold', fontSize: 26, verticalAlign: 'top', color: '#000'},
  sub: {fontFamily: FONT, fontWeight: 'bold', fontSize: 19, verticalAlign: 'bottom', color: '#000'},
  subg: {fontFamily: FONT, fontWeight: 'normal', fontSize: 19, verticalAlign: 'bottom', color: '#000'}
};

function xAxisCfg(gridIndex, name) {
  return {
    type: 'log', logBase: 10, gridIndex, min: 1, max: Math.pow(10, xDecades[1] + X_OFF), splitNumber: 5,
    axisLine: {show: true, onZero: false, lineStyle: {color: '#000', width: 1}},
    axisTick: {show: true, inside: true, length: 8, lineStyle: {color: '#000', width: 1}},
    splitLine: {show: false},
    axisLabel: {margin: 11, formatter: xLabel, rich: tickRich, showMinLabel: true, showMaxLabel: true},
    name: name, nameLocation: 'middle', nameGap: 46,
    nameTextStyle: {fontFamily: FONT, fontWeight: 'bold', fontSize: 24.5, color: '#000', lineHeight: 30}
  };
}
function yAxisCfg(gridIndex, name, pad, gap) {
  return {
    type: 'log', logBase: 10, gridIndex, min: Math.pow(10, yDecades[0]), max: Math.pow(10, yDecades[1]), splitNumber: 5,
    axisLine: {show: true, onZero: false, lineStyle: {color: '#000', width: 1}},
    axisTick: {show: true, inside: true, length: 7, lineStyle: {color: '#000', width: 1}},
    splitLine: {show: false},
    axisLabel: {margin: 16, formatter: yLabel, rich: tickRich, showMinLabel: true, showMaxLabel: true},
    name: name, nameLocation: 'middle', nameRotate: 90, nameGap: gap,
    nameTextStyle: {lineHeight: 34, padding: [0, 0, 0, pad], rich: nameRich}
  };
}
function scatter(name, data, color, xi, z) {
  return {type: 'scatter', name, xAxisIndex: xi, yAxisIndex: xi, data: toVal(data), symbol: 'circle',
    symbolSize: 5, itemStyle: {color, opacity: 1}, silent: true, z};
}
function line(data, color, width, xi) {
  return {type: 'line', xAxisIndex: xi, yAxisIndex: xi, data: toVal(data), showSymbol: false, symbol: 'none',
    lineStyle: {color, width}, silent: true, z: 3, clip: true};
}
function ticks(xi) {
  return {type: 'scatter', xAxisIndex: xi, yAxisIndex: xi, data: minorTicks, symbol: 'rect',
    symbolSize: [1, 5], symbolOffset: [0, '-50%'], itemStyle: {color: '#000'}, silent: true, clip: false, z: 5};
}
const hLine = v => [[xDecades[0], Math.log10(v)], [xDecades[1], Math.log10(v)]];

const chart = echarts.init(document.getElementById('c'), null, {renderer: 'canvas'});
chart.setOption({
  animation: false,
  backgroundColor: '#fff',
  grid: [
    {left: 117, top: 49, width: 875, height: 291, outerBoundsMode: 'none'},
    {left: 117, top: 448, width: 875, height: 292, outerBoundsMode: 'none'}
  ],
  graphic: [{type: 'text', x: 554, y: 17, style: {text: 'Accuracies', font: 'bold 25.5px ' + FONT, fill: '#000', align: 'center', verticalAlign: 'middle'}}],
  legend: {
    data: [{name: 'validation possible', icon: 'circle'}, {name: 'validation impossible', icon: 'circle'}],
    orient: 'vertical', left: 586, top: 458, itemWidth: 74, itemHeight: 5, itemGap: 5,
    padding: [6, 13, 4, 39], backgroundColor: '#fff', borderColor: '#000', borderWidth: 1, borderRadius: 0,
    selectedMode: false, textStyle: {fontFamily: FONT, fontWeight: 'bold', fontSize: 25, color: '#000', lineHeight: 30}, z: 10
  },
  xAxis: [xAxisCfg(0, ''), xAxisCfg(1, 'Line Intensity S (cm/molec)')],
  yAxis: [
    yAxisCfg(0, '{g|σ}{sub|S}{b| / S}', 15, 73),
    yAxisCfg(1, '{g|σ}{subg|γ}{sub|air}{b| / }{g|γ}{sub|air}', 74, 72)
  ],
  series: [
    scatter('validation impossible', topImpossible, GRAY, 0, 2),
    line(hLine(topLimit), '#5a5a5a', 1.5, 0),
    line(topDiagonal, '#000', 1, 0),
    scatter('validation possible', topPossible, '#000', 0, 4),
    ticks(0),
    scatter('validation impossible', bottomImpossible, GRAY, 1, 2),
    line(hLine(bottomLimit), '#5a5a5a', 1.5, 1),
    line(bottomDiagonal, '#000', 1, 1),
    scatter('validation possible', bottomPossible, '#000', 1, 4),
    ticks(1)
  ]
});
</script></body></html>
